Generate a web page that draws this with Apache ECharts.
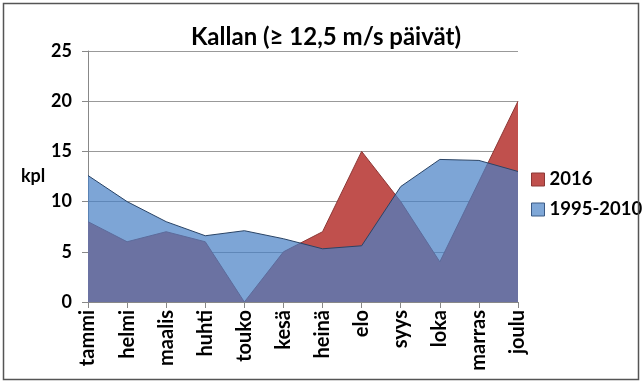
<!DOCTYPE html>
<html><head><meta charset="utf-8">
<script src="https://cdn.jsdelivr.net/npm/echarts@6/dist/echarts.min.js"></script>
<style>html,body{margin:0;padding:0;background:#fff}#c{width:642px;height:384px}</style>
</head><body><div id="c"></div>
<script>
const categories = ['tammi','helmi','maalis','huhti','touko','kesä','heinä','elo','syys','loka','marras','joulu'];
const values2016 = [8, 6, 7, 6, 0, 5, 7, 15, 10, 4, 12, 20];
const values19952010 = [12.6, 10, 8, 6.6, 7.1, 6.3, 5.3, 5.6, 11.5, 14.2, 14.1, 13];
const yTicks = [0, 5, 10, 15, 20, 25];

const FONT = 'Lato';
const chart = echarts.init(document.getElementById('c'), null, {renderer: 'canvas'});
chart.setOption({
  animation: false,
  backgroundColor: '#fff',
  title: {
    text: 'Kallan (≥ 12,5 m/s päivät)',
    left: 321, top: 20, textAlign: 'center',
    textStyle: {fontFamily: FONT, fontWeight: 'bold', fontSize: 24, color: '#000'}
  },
  graphic: [{
    type: 'rect', shape: {x: 3.5, y: 3.5, width: 635, height: 376},
    style: {fill: 'none', stroke: '#555', lineWidth: 1.5}, z: 100
  }],
  legend: {
    orient: 'vertical', left: 531, top: 170, itemGap: 11, padding: 0,
    itemWidth: 13, itemHeight: 13, icon: 'rect',
    textStyle: {fontFamily: FONT, fontWeight: 'bold', fontSize: 18.5, color: '#000'},
    data: [
      {name: '2016', itemStyle: {color: '#c0504d', borderColor: '#8c3836', borderWidth: 1}},
      {name: '1995-2010', itemStyle: {color: '#7fa7d7', borderColor: '#3b5a85', borderWidth: 1}}
    ]
  },
  grid: {left: 88, right: 124, top: 51, bottom: 82},
  xAxis: {
    type: 'category', data: categories, boundaryGap: false,
    axisLine: {lineStyle: {color: '#888', width: 1}},
    axisTick: {show: true, length: 6, lineStyle: {color: '#888'}},
    axisLabel: {rotate: 90, margin: 8, fontFamily: FONT, fontWeight: 'bold', fontSize: 20, color: '#000', interval: 0}
  },
  yAxis: {
    type: 'value', min: 0, max: 25, interval: 5,
    name: 'kpl', nameLocation: 'middle', nameRotate: 0, nameGap: 40,
    nameTextStyle: {fontFamily: FONT, fontWeight: 'bold', fontSize: 18, color: '#000', padding: [0, 0, 8, 0]},
    axisLine: {show: true, lineStyle: {color: '#888', width: 1}},
    axisTick: {show: true, length: 6, lineStyle: {color: '#888'}},
    axisLabel: {margin: 16, fontFamily: FONT, fontWeight: 'bold', fontSize: 18, color: '#000',
      formatter: v => yTicks.includes(v) ? String(v) : ''},
    splitLine: {lineStyle: {color: '#999', width: 1}}
  },
  series: [
    {
      name: '2016', type: 'line', data: values2016, symbol: 'none', z: 2,
      itemStyle: {color: '#c0504d'},
      lineStyle: {color: '#8c3836', width: 1},
      areaStyle: {color: '#c0504d', opacity: 1}
    },
    {
      name: '1995-2010', type: 'line', data: values19952010, symbol: 'none', z: 3,
      itemStyle: {color: '#4b82c5'},
      lineStyle: {color: '#2a4466', width: 1},
      areaStyle: {color: 'rgb(72,128,197)', opacity: 0.71}
    }
  ]
});
</script></body></html>
